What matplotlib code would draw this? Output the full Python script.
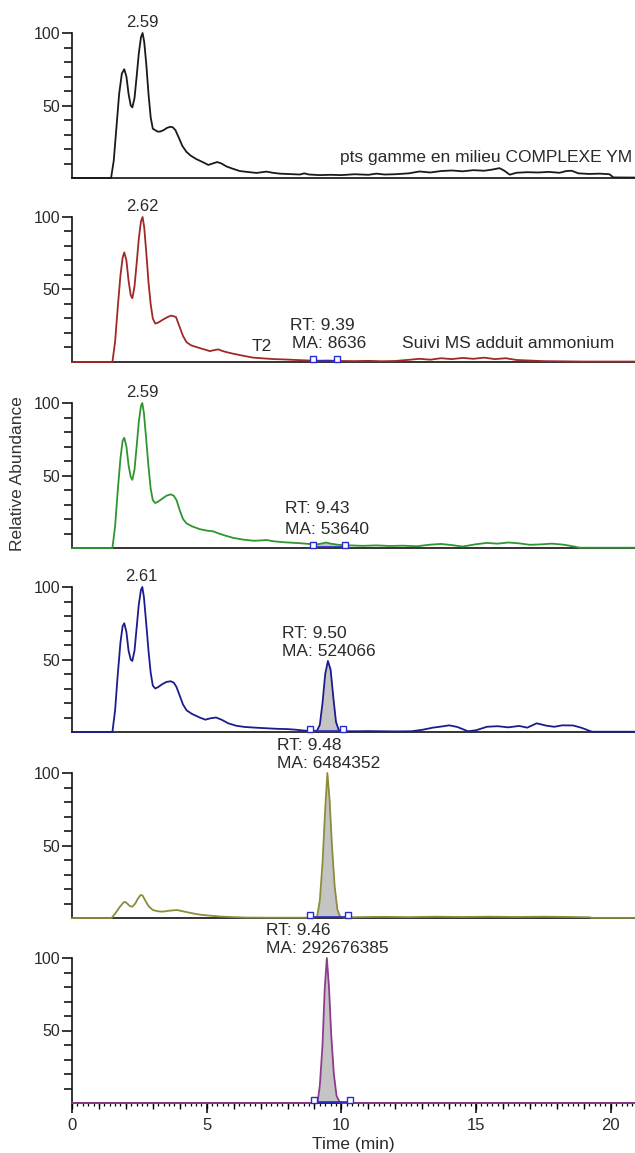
import matplotlib
matplotlib.use('Agg')
import matplotlib.pyplot as plt
import numpy as np
from matplotlib.ticker import MultipleLocator, FixedLocator, NullFormatter, FuncFormatter

plt.rcParams['font.family'] = ['Liberation Sans', 'DejaVu Sans']

# ---------------- data (time in min, relative abundance %) ----------------
trace1 = [(0.0, 0), (1.45, 0), (1.55, 12), (1.65, 35), (1.75, 58), (1.85, 72), (1.94, 75), (2.02, 70),
          (2.10, 58), (2.18, 50), (2.24, 48.7), (2.32, 55), (2.40, 70), (2.48, 86), (2.56, 97), (2.62, 100),
          (2.68, 94), (2.76, 78), (2.84, 58), (2.92, 42), (3.00, 34), (3.09, 33), (3.18, 32), (3.27, 32),
          (3.40, 33), (3.52, 34.5), (3.64, 35.3), (3.74, 35), (3.84, 33), (3.96, 28), (4.10, 22), (4.25, 18),
          (4.40, 15.5), (4.62, 13), (4.85, 11), (5.06, 9), (5.22, 10), (5.39, 11), (5.55, 10), (5.73, 8),
          (5.95, 6.5), (6.23, 4.8), (6.50, 4.2), (6.85, 3.5), (7.05, 4), (7.22, 4.4), (7.45, 3.6), (7.72, 3),
          (8.10, 2.7), (8.46, 2.4), (8.62, 3.2), (8.80, 2.4), (9.20, 2), (9.60, 2.2), (10.0, 2), (10.5, 2.6),
          (11.0, 2.2), (11.3, 3.0), (11.6, 2.4), (12.0, 2.6), (12.5, 3.2), (12.9, 4.5), (13.3, 3.8), (13.7, 4.8),
          (14.1, 5.2), (14.5, 4.6), (14.9, 5.4), (15.3, 5.0), (15.6, 5.8), (15.87, 6.8), (16.05, 5.0),
          (16.25, 2.3), (16.5, 3.6), (16.9, 4.0), (17.3, 3.8), (17.7, 4.2), (18.1, 3.6), (18.35, 4.8),
          (18.55, 5.0), (18.8, 3.2), (19.2, 2.8), (19.6, 3.0), (19.95, 2.6), (20.1, 0.4), (20.9, 0.3)]

trace2 = [(0.0, 0), (1.5, 0), (1.6, 14), (1.7, 38), (1.8, 60), (1.88, 72), (1.94, 75.6), (2.02, 70),
          (2.10, 56), (2.18, 46), (2.24, 44), (2.32, 52), (2.40, 68), (2.48, 85), (2.56, 97), (2.62, 100),
          (2.68, 93), (2.76, 75), (2.84, 55), (2.92, 40), (3.00, 30), (3.09, 26.5), (3.18, 27), (3.27, 28),
          (3.40, 29.5), (3.55, 31), (3.68, 32), (3.78, 31.5), (3.86, 31), (3.98, 25), (4.12, 18), (4.25, 13.7),
          (4.42, 11.5), (4.62, 10.3), (4.85, 9), (5.12, 7.5), (5.28, 8.2), (5.43, 8.7), (5.6, 7.5), (5.8, 6.5),
          (5.99, 5.7), (6.3, 4.5), (6.73, 3), (7.1, 2.5), (7.5, 2.0), (7.84, 1.8), (8.3, 1.4), (8.83, 1.0),
          (9.2, 0.9), (9.5, 1.0), (10.0, 0.7), (10.5, 0.6), (11.0, 0.8), (11.5, 0.5), (12.0, 0.7), (12.5, 1.5),
          (12.9, 2.2), (13.3, 1.6), (13.7, 2.6), (14.1, 2.0), (14.5, 2.8), (14.9, 2.2), (15.3, 3.0), (15.7, 2.0),
          (16.1, 2.6), (16.5, 1.4), (17.0, 1.0), (17.5, 0.6), (18.0, 0.5), (18.5, 0.4), (19.0, 0.3), (20.9, 0.3)]

trace3 = [(0.0, 0), (1.5, 0), (1.6, 15), (1.7, 40), (1.8, 62), (1.88, 74), (1.94, 76), (2.02, 70),
          (2.10, 57), (2.18, 49), (2.24, 47), (2.32, 54), (2.40, 70), (2.48, 87), (2.56, 98), (2.61, 100),
          (2.67, 93), (2.75, 76), (2.84, 56), (2.92, 41), (3.00, 33), (3.09, 31), (3.2, 32), (3.35, 34),
          (3.5, 36), (3.66, 37), (3.78, 36), (3.88, 33), (4.0, 26), (4.12, 20), (4.25, 17), (4.45, 15),
          (4.74, 13), (5.0, 12), (5.24, 11.5), (5.45, 10), (5.7, 8.5), (5.98, 7), (6.35, 5.8), (6.73, 5),
          (7.0, 5.2), (7.22, 5.5), (7.5, 4.6), (7.84, 4), (8.2, 3.6), (8.46, 3.3), (8.8, 2.8), (9.1, 2.5),
          (9.3, 3.2), (9.43, 3.8), (9.6, 3.0), (9.9, 2.2), (10.3, 1.8), (10.8, 1.5), (11.3, 1.8), (11.8, 1.4),
          (12.3, 1.6), (12.8, 1.2), (13.3, 2.3), (13.7, 2.8), (14.1, 2.0), (14.5, 1.0), (15.0, 2.6), (15.4, 3.5),
          (15.8, 3.0), (16.2, 3.8), (16.6, 3.2), (17.0, 2.2), (17.4, 2.5), (17.8, 3.0), (18.2, 2.4), (18.5, 1.5),
          (18.85, 0.2), (20.9, 0.2)]

trace4 = [(0.0, 0), (1.5, 0), (1.6, 15), (1.7, 40), (1.8, 62), (1.88, 73), (1.94, 75), (2.02, 69),
          (2.10, 56), (2.18, 50), (2.24, 49), (2.32, 56), (2.40, 72), (2.48, 88), (2.56, 98), (2.61, 100),
          (2.67, 93), (2.75, 76), (2.84, 56), (2.92, 41), (3.00, 32), (3.09, 30), (3.2, 31), (3.35, 33),
          (3.5, 34.5), (3.66, 35), (3.78, 34), (3.88, 31), (4.0, 25), (4.12, 19), (4.25, 15), (4.45, 12.5),
          (4.74, 10), (4.95, 8.5), (5.15, 9.5), (5.35, 10), (5.55, 8.5), (5.8, 6), (6.1, 4.3), (6.4, 3.5),
          (6.8, 3), (7.2, 2.6), (7.6, 2.2), (8.0, 2.0), (8.3, 1.6), (8.6, 1.0), (8.9, 0.6), (9.1, 1.0),
          (9.2, 5), (9.3, 20), (9.4, 40), (9.5, 49), (9.6, 43), (9.7, 24), (9.8, 7), (9.9, 1.5), (10.0, 0.6),
          (10.5, 0.5), (11.0, 0.6), (11.5, 0.5), (12.0, 0.4), (12.6, 0.5), (13.0, 1.5), (13.4, 3.0), (13.8, 4.0),
          (14.0, 4.6), (14.3, 3.5), (14.7, 0.5), (15.0, 1.2), (15.4, 3.6), (15.8, 4.0), (16.2, 3.2), (16.6, 4.2),
          (16.9, 3.0), (17.25, 6.0), (17.6, 4.4), (17.9, 3.6), (18.2, 4.6), (18.6, 4.5), (18.9, 3.0),
          (19.3, 0.2), (20.9, 0.2)]

trace5 = [(0.0, 0), (1.47, 0), (1.6, 3), (1.75, 7), (1.9, 10.5), (1.97, 11.2), (2.05, 10), (2.15, 8.2),
          (2.24, 7.8), (2.35, 10), (2.45, 13.5), (2.55, 15.9), (2.62, 15.5), (2.72, 12), (2.85, 8), (3.0, 5.5),
          (3.2, 4.6), (3.37, 4.4), (3.6, 5), (3.9, 5.5), (4.15, 4.5), (4.4, 3.5), (4.65, 2.6), (4.9, 2),
          (5.2, 1.5), (5.5, 1.0), (6.0, 0.6), (6.5, 0.3), (7.5, 0.2), (8.5, 0.2), (9.0, 0.3), (9.1, 1),
          (9.2, 12), (9.3, 38), (9.4, 75), (9.48, 100), (9.56, 82), (9.65, 50), (9.75, 22), (9.85, 6),
          (9.95, 1), (10.1, 0.3), (10.6, 0.6), (11.5, 0.8), (12.5, 0.6), (13.5, 0.9), (14.5, 0.7), (15.5, 0.9),
          (16.5, 0.7), (17.5, 0.9), (18.5, 0.7), (19.2, 0.5), (19.3, 0.1), (20.9, 0.1)]

trace6 = [(0.0, 0), (9.0, 0), (9.12, 1), (9.2, 12), (9.3, 40), (9.38, 78), (9.46, 100), (9.54, 80),
          (9.62, 48), (9.72, 20), (9.82, 5), (9.94, 0.5), (10.1, 0), (20.9, 0)]

traces = [trace1, trace2, trace3, trace4, trace5, trace6]
colors = ['#1a1a1a', '#a02828', '#2f962f', '#1c1c8c', '#8c8c3a', '#8e3a8e']

# integration window (start, end) per panel, None if no peak integrated
windows = [None, (8.95, 9.83), (8.94, 10.13), (8.83, 10.06), (8.83, 10.24), (8.98, 10.32)]

# text annotations per panel: (x time, y %, text, horizontal alignment)
apex_labels = [(2.60, '2.59'), (2.63, '2.62'), (2.60, '2.59'), (2.59, '2.61'), None, None]
rt_labels = ['RT: 9.39', 'RT: 9.43', 'RT: 9.50', 'RT: 9.48', 'RT: 9.46']
ma_labels = ['MA: 8636', 'MA: 53640', 'MA: 524066', 'MA: 6484352', 'MA: 292676385']
rt_pos = [(8.09, 25.5), (7.9, 27), (7.79, 68), (7.6, 119), (7.2, 119)]
ma_pos = [(8.17, 13.1), (7.9, 13), (7.79, 55.5), (7.6, 106.5), (7.2, 106.5)]
extra_texts = {0: [(9.94, 14.3, 'pts gamme en milieu COMPLEXE YM')],
               1: [(6.68, 10.5, 'T2'), (12.24, 13.1, 'Suivi MS adduit ammonium')]}

x_ticks = [0, 5, 10, 15, 20]
panel_baselines_px = [178, 362, 548, 732, 918, 1103]

# ---------------- figure ----------------
W, H = 635, 1153
fig = plt.figure(figsize=(W / 100, H / 100), dpi=100)
left_px = 72
plot_h_px = 145
txt_col = '#2a2a2a'
mark_col = '#2a2ad0'

for i, tr in enumerate(traces):
    base = panel_baselines_px[i]
    ax = fig.add_axes([left_px / W, (H - base) / H, (W - left_px) / W, plot_h_px / H])
    arr = np.array(tr, dtype=float)
    t, v = arr[:, 0], arr[:, 1]
    ax.set_xlim(0, 20.9)
    ax.set_ylim(0, 100)
    for s in ['top', 'right']:
        ax.spines[s].set_visible(False)
    for s in ['left', 'bottom']:
        ax.spines[s].set_linewidth(1.2)
        ax.spines[s].set_color('#111111')

    w = windows[i]
    if w is not None:
        m = (t >= w[0]) & (t <= w[1])
        ax.fill_between(t, v, 0, where=m, interpolate=True, color='#c4c4c4', lw=0, zorder=2)
    ax.plot(t, v, color=colors[i], lw=1.3, zorder=3, clip_on=False)
    if w is not None:
        ax.plot([w[0], w[1]], [0.6, 0.6], color=mark_col, lw=1.2, zorder=4, clip_on=False)
        ax.plot([w[0], w[1]], [1.8, 1.8], ls='none', marker='s', ms=4.5, mfc='white',
                mec=mark_col, mew=1.0, zorder=5, clip_on=False)

    # y ticks
    ax.yaxis.set_major_locator(FixedLocator([50, 100]))
    ax.yaxis.set_minor_locator(FixedLocator([10, 20, 30, 40, 60, 70, 80, 90]))
    ax.tick_params(axis='y', which='major', direction='out', length=7, width=1.1,
                   pad=1.5, labelsize=11.5, labelcolor=txt_col)
    ax.tick_params(axis='y', which='minor', direction='out', length=6, width=1.1)

    if i < 5:
        ax.tick_params(axis='x', which='both', bottom=False, labelbottom=False)
    else:
        ax.xaxis.set_major_locator(FixedLocator(x_ticks))
        ax.xaxis.set_minor_locator(MultipleLocator(0.2))
        ax.tick_params(axis='x', which='major', direction='out', length=7.5, width=1.1,
                       pad=3.5, labelsize=12, labelcolor=txt_col)
        ax.tick_params(axis='x', which='minor', direction='out', length=2.5, width=0.9)
        sec = ax.secondary_xaxis('bottom')
        sec.xaxis.set_major_locator(MultipleLocator(1))
        sec.xaxis.set_major_formatter(NullFormatter())
        sec.tick_params(axis='x', which='major', direction='out', length=4, width=1.0)
        sec.tick_params(axis='x', which='minor', bottom=False)
        sec.spines['bottom'].set_visible(False)

    # annotations
    if apex_labels[i] is not None:
        ax.text(apex_labels[i][0], 107, apex_labels[i][1], ha='center', va='center',
                fontsize=12, color=txt_col, clip_on=False)
    if i >= 1:
        rx, ry = rt_pos[i - 1]
        mx, my = ma_pos[i - 1]
        ax.text(rx, ry, rt_labels[i - 1], ha='left', va='center', fontsize=12.5,
                color=txt_col, clip_on=False)
        ax.text(mx, my, ma_labels[i - 1], ha='left', va='center', fontsize=12.5,
                color=txt_col, clip_on=False)
    for (ex, ey, etxt) in extra_texts.get(i, []):
        ax.text(ex, ey, etxt, ha='left', va='center', fontsize=12.5, color=txt_col, clip_on=False)

fig.text(18 / W, 1 - 474 / H, 'Relative Abundance', rotation=90, ha='center', va='center',
         fontsize=12.5, color='#333333')
fig.text((left_px + (W - left_px) / 2) / W, 1 - 1145 / H, 'Time (min)', ha='center', va='center',
         fontsize=12.5, color=txt_col)

fig.savefig('out.png', dpi=100, facecolor='white')
